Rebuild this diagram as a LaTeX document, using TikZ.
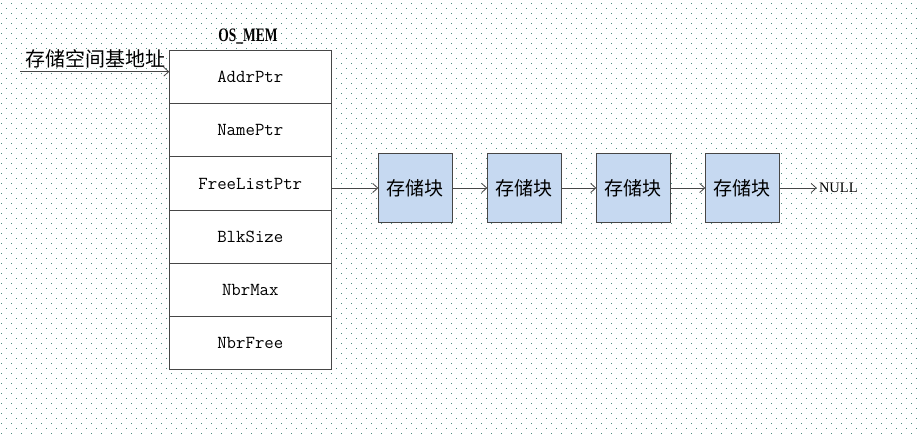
\documentclass[tikz,border=0pt]{standalone}
\usepackage{fontspec}
\setmainfont{Liberation Serif}
\newfontfamily\cjk{Noto Sans CJK SC}
\usepackage{xcolor}
\usepackage{tikz}
\usetikzlibrary{positioning,arrows.meta}

\definecolor{blkfill}{RGB}{198,217,241}
\definecolor{griddot}{RGB}{80,140,130}
\definecolor{edgegray}{RGB}{70,70,70}

\begin{document}
\begin{tikzpicture}[x=1pt,y=-1pt,
  field/.style={draw=edgegray, fill=white, line width=0.9pt, outer sep=0pt,
    minimum width=162pt, minimum height=53.1pt, inner sep=0pt,
    font=\ttfamily\fontsize{18.3}{21}\selectfont},
  memblk/.style={draw=edgegray, fill=blkfill, line width=0.9pt, outer sep=0pt,
    minimum width=74pt, minimum height=69pt, inner sep=0pt,
    font=\cjk\fontsize{19}{22}\selectfont},
  link/.style={-{Straight Barb[length=5pt,width=9pt]}, draw=edgegray, line width=0.8pt}]

  %% Page and dotted background (staggered rows)
  \useasboundingbox (0,0) rectangle (917,438);
  \fill[white] (0,0) rectangle (917,438);
  \foreach \y in {3,13,...,438}
    \draw[griddot, line width=0.9pt, dash pattern=on 0.9pt off 9.1pt]
      (1,\y) -- (917,\y);
  \foreach \y in {8,18,...,438}
    \draw[griddot, line width=0.9pt, dash pattern=on 0.9pt off 9.1pt]
      (6,\y) -- (917,\y);

  %% OS_MEM structure
  \node[font=\bfseries\fontsize{19}{22}\selectfont] (title) at (248,36.5)
    {\scalebox{0.71}[1]{OS\_MEM}};
  \node[field] (addr) at (250.3,77.3) {AddrPtr};
  \node[field, below=0pt of addr] (name) {NamePtr};
  \node[field, below=0pt of name] (free) {FreeListPtr};
  \node[field, below=0pt of free] (size) {BlkSize};
  \node[field, below=0pt of size] (max) {NbrMax};
  \node[field, below=0pt of max] (nfree) {NbrFree};

  %% Base address pointer
  \coordinate (base) at (20,71.7);
  \node[font=\cjk\fontsize{20}{24}\selectfont] (baselbl) at (95,59) {存储空间基地址};
  \draw[link] (base) -- (base -| addr.west);

  %% Free list of memory blocks
  \node[memblk] (blk1) at (415.3,188) {存储块};
  \node[memblk, right=35pt of blk1] (blk2) {存储块};
  \node[memblk, right=35pt of blk2] (blk3) {存储块};
  \node[memblk, right=35pt of blk3] (blk4) {存储块};
  \node[font=\fontsize{14.5}{17}\selectfont, inner sep=2pt, right=37.5pt of blk4] (null) {NULL};

  \draw[link] (free.east |- blk1.west) -- (blk1);
  \draw[link] (blk1) -- (blk2);
  \draw[link] (blk2) -- (blk3);
  \draw[link] (blk3) -- (blk4);
  \draw[link] (blk4) -- (null);
\end{tikzpicture}
\end{document}
